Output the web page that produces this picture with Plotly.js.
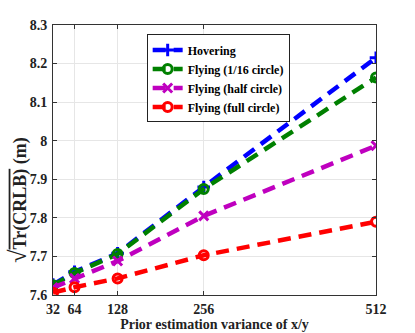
<!DOCTYPE html>
<html>
<head>
<meta charset="utf-8">
<script src="https://cdn.plot.ly/plotly-3.0.1.min.js"></script>
<style>
  body { margin: 0; background: #fff; }
  #chart { width: 415px; height: 333px; }
</style>
</head>
<body>
<div id="chart"></div>
<script>
// prior variance on x axis
var variance = [32, 64, 128, 256, 512];

// sqrt(Tr(CRLB))
var hovering = [7.627, 7.660, 7.708, 7.880, 8.215];
var flyingSixteenth = [7.625, 7.657, 7.706, 7.875, 8.164];
var flyingHalf = [7.619, 7.643, 7.688, 7.805, 7.987];
var flyingFull = [7.606, 7.620, 7.643, 7.703, 7.790];

var yTicks = [7.6, 7.7, 7.8, 7.9, 8.0, 8.1, 8.2, 8.3];
var yTickText = ['7.6', '7.7', '7.8', '7.9', '8', '8.1', '8.2', '8.3'];

var font = 'Liberation Serif, Times New Roman, serif';

function series(y, name, color, symbol) {
  return {
    x: variance,
    y: y,
    name: name,
    type: 'scatter',
    mode: 'lines+markers',
    line: {color: color, width: 4.5, dash: '13px,8px'},
    marker: {color: color, symbol: symbol, size: 9, line: {color: color, width: 3}}
  };
}

var data = [
  series(hovering, 'Hovering', '#0000ff', 'cross-thin-open'),
  series(flyingSixteenth, 'Flying (1/16 circle)', '#008000', 'circle-open'),
  series(flyingHalf, 'Flying (half circle)', '#bf00bf', 'x-thin-open'),
  series(flyingFull, 'Flying (full circle)', '#ff0000', 'circle-open')
];

var layout = {
  width: 415,
  height: 333,
  margin: {l: 53, r: 39, t: 25, b: 38},
  paper_bgcolor: '#fff',
  plot_bgcolor: '#fff',
  font: {family: font, size: 14, color: '#222'},
  showlegend: true,
  legend: {
    x: 0.29, y: 0.965, xanchor: 'left', yanchor: 'top',
    bgcolor: '#fff', bordercolor: '#222', borderwidth: 1,
    font: {family: font, size: 12, color: '#000', weight: 'bold'},
    tracegroupgap: 0, itemwidth: 30
  },
  xaxis: {
    range: [32, 512],
    tickvals: variance,
    ticktext: variance.map(String),
    tickfont: {family: font, size: 14, weight: 'bold', color: '#222'},
    showgrid: true, gridcolor: '#e6e6e6', zeroline: false,
    showline: true, linecolor: '#333', linewidth: 1, mirror: 'ticks',
    ticks: 'inside', ticklen: 4, tickcolor: '#333', ticklabelstandoff: 1,
    title: {text: 'Prior estimation variance of x/y', standoff: 2,
            font: {family: font, size: 14, weight: 'bold', color: '#222'}}
  },
  yaxis: {
    range: [7.6, 8.3],
    tickvals: yTicks,
    ticktext: yTickText,
    tickfont: {family: font, size: 14, weight: 'bold', color: '#222'},
    showgrid: true, gridcolor: '#e6e6e6', zeroline: false,
    showline: true, linecolor: '#333', linewidth: 1, mirror: 'ticks',
    ticks: 'inside', ticklen: 4, tickcolor: '#333', ticklabelstandoff: 2
  },
  annotations: [{
    text: '<span style="font-size:24px;font-weight:normal">\u221A</span><span style="text-decoration:overline">Tr(CRLB)</span> (m)',
    xref: 'paper', yref: 'paper',
    x: -0.111, y: 0.35,
    xanchor: 'center', yanchor: 'middle',
    textangle: -90, showarrow: false,
    font: {family: font, size: 18, weight: 'bold', color: '#222'}
  }]
};

Plotly.newPlot('chart', data, layout, {displayModeBar: false, staticPlot: true});
</script>
</body>
</html>
